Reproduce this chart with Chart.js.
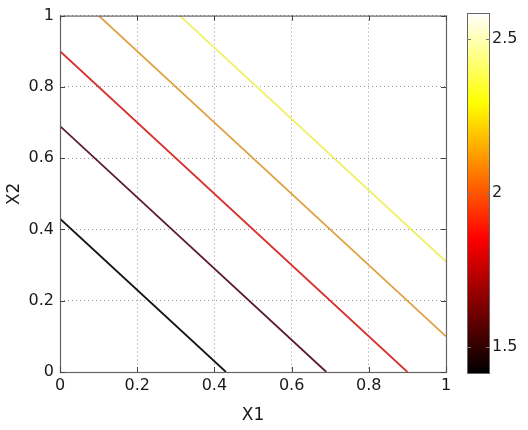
<!DOCTYPE html>
<html>
<head>
<meta charset="utf-8">
<script src="https://cdn.jsdelivr.net/npm/chart.js@4"></script>
<style>
  body { margin: 0; background: #fff; }
  #wrap { position: relative; width: 528px; height: 430px; }
  #main { position: absolute; left: 0; top: 0; }
  #cbar { position: absolute; left: 452px; top: 0; }
</style>
</head>
<body>
<div id="wrap">
  <canvas id="main" width="460" height="430"></canvas>
  <canvas id="cbar" width="76" height="430"></canvas>
</div>
<script>
// contour lines (x1 + x2 = const), endpoints
const lineStartX = [0, 0, 0, 0.1, 0.31];
const lineStartY = [0.43, 0.69, 0.9, 1, 1];
const lineEndX = [0.43, 0.69, 0.9, 1, 1];
const lineEndY = [0, 0, 0, 0.1, 0.31];
const lineColors = ["#151515", "#5a1a2c", "#d8302c", "#dea040", "#f0f068"];

const axisTicks = [0, 0.2, 0.4, 0.6, 0.8, 1];
const cbarMin = 1.415;
const cbarMax = 2.585;
const cbarTicks = [1.5, 2, 2.5];

const FONT = "'DejaVu Sans', sans-serif";
Chart.defaults.font.family = FONT;
Chart.defaults.font.size = 16;
Chart.defaults.color = "#1a1a1a";

// box + inward ticks like matlab
const boxPlugin = {
  id: "box",
  afterDraw(chart) {
    const { ctx, chartArea: a, scales } = chart;
    ctx.save();
    ctx.strokeStyle = "#666";
    ctx.lineWidth = 1.2;
    ctx.strokeRect(a.left + 0.5, a.top + 0.5, a.right - a.left, a.bottom - a.top);
    ctx.strokeStyle = "#444";
    ctx.lineWidth = 1;
    const t = 5;
    axisTicks.forEach((v) => {
      const px = Math.round(scales.x.getPixelForValue(v)) + 0.5;
      const py = Math.round(scales.y.getPixelForValue(v)) + 0.5;
      ctx.beginPath();
      ctx.moveTo(px, a.bottom); ctx.lineTo(px, a.bottom - t);
      ctx.moveTo(px, a.top); ctx.lineTo(px, a.top + t);
      ctx.moveTo(a.left, py); ctx.lineTo(a.left + t, py);
      ctx.moveTo(a.right, py); ctx.lineTo(a.right - t, py);
      ctx.stroke();
    });
    ctx.restore();
  },
};

const datasets = lineColors.map((c, i) => ({
  data: [
    { x: lineStartX[i], y: lineStartY[i] },
    { x: lineEndX[i], y: lineEndY[i] },
  ],
  showLine: true,
  borderColor: c,
  borderWidth: 1.8,
  pointRadius: 0,
}));

const gridOpts = { color: "#9a9a9a", drawTicks: false, lineWidth: 1 };

new Chart(document.getElementById("main"), {
  type: "scatter",
  data: { datasets },
  plugins: [boxPlugin],
  options: {
    responsive: false,
    animation: false,
    layout: { padding: { top: 14, right: 14, bottom: 0, left: 0 } },
    plugins: { legend: { display: false }, tooltip: { enabled: false } },
    scales: {
      x: {
        type: "linear",
        min: 0,
        max: 1,
        afterBuildTicks: (s) => { s.ticks = axisTicks.map((v) => ({ value: v })); },
        afterFit: (s) => { s.height = 58; },
        ticks: { padding: 4, callback: (v) => String(v) },
        grid: gridOpts,
        border: { display: false, dash: [1, 3] },
        title: { display: true, text: "X1", font: { size: 17 }, padding: { top: 2 } },
      },
      y: {
        type: "linear",
        min: 0,
        max: 1,
        afterBuildTicks: (s) => { s.ticks = axisTicks.map((v) => ({ value: v })); },
        afterFit: (s) => { s.width = 60; },
        ticks: { padding: 6, callback: (v) => String(v) },
        grid: gridOpts,
        border: { display: false, dash: [1, 3] },
        title: { display: true, text: "X2", font: { size: 17 }, padding: { bottom: 0 } },
      },
    },
  },
});

// colorbar with matlab "hot" map
function hotGradient(ctx, area) {
  const g = ctx.createLinearGradient(0, area.bottom, 0, area.top);
  g.addColorStop(0, "#000000");
  g.addColorStop(0.375, "#ff0000");
  g.addColorStop(0.75, "#ffff00");
  g.addColorStop(1, "#ffffff");
  return g;
}

const cbarBox = {
  id: "cbox",
  afterDraw(chart) {
    const { ctx, chartArea: a, scales } = chart;
    ctx.save();
    ctx.strokeStyle = "#666";
    ctx.strokeRect(a.left + 0.5, a.top + 0.5, a.right - a.left - 1, a.bottom - a.top);
    ctx.strokeStyle = "#777";
    cbarTicks.forEach((v) => {
      const py = Math.round(scales.y.getPixelForValue(v)) + 0.5;
      ctx.beginPath();
      ctx.moveTo(a.left, py); ctx.lineTo(a.left + 4, py);
      ctx.moveTo(a.right, py); ctx.lineTo(a.right - 4, py);
      ctx.stroke();
    });
    ctx.restore();
  },
};

new Chart(document.getElementById("cbar"), {
  type: "bar",
  data: {
    labels: [""],
    datasets: [{
      data: [[cbarMin, cbarMax]],
      backgroundColor: (c) => {
        const area = c.chart.chartArea;
        if (!area) return "#f00";
        return hotGradient(c.chart.ctx, area);
      },
      borderWidth: 0,
      barPercentage: 1,
      categoryPercentage: 1,
    }],
  },
  plugins: [cbarBox],
  options: {
    responsive: false,
    animation: false,
    layout: { padding: { top: 13, left: 15, right: 0, bottom: 57 } },
    plugins: { legend: { display: false }, tooltip: { enabled: false } },
    scales: {
      x: { display: false },
      y: {
        position: "right",
        min: cbarMin,
        max: cbarMax,
        afterBuildTicks: (s) => { s.ticks = cbarTicks.map((v) => ({ value: v })); },
        afterFit: (s) => { s.width = 38; },
        ticks: { padding: 2, font: { size: 16 }, callback: (v) => String(v) },
        grid: { display: false, drawTicks: false },
        border: { display: false },
      },
    },
  },
});
</script>
</body>
</html>
